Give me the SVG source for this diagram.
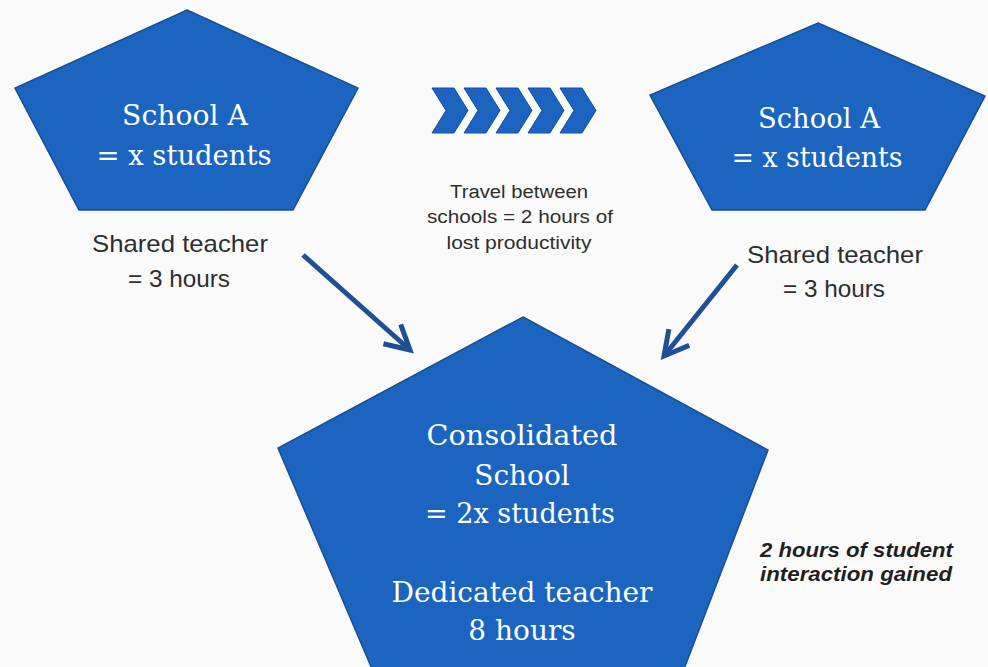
<svg xmlns="http://www.w3.org/2000/svg" width="988" height="667" viewBox="0 0 988 667">
<defs>
<style>
.pent{fill:#1b64bf;stroke:#1a4f8f;stroke-width:1.5;stroke-linejoin:miter}
.ser{font-family:"DejaVu Serif","Liberation Serif",serif;fill:#ffffff;text-anchor:middle}
.sans{font-family:"Liberation Sans",Arial,sans-serif;fill:#2e2e2e;text-anchor:middle}
.note{font-family:"Liberation Sans",Arial,sans-serif;fill:#1f1f1f;font-style:italic;font-weight:bold;font-size:20px}
.arr{stroke:#1f4f95;stroke-width:5;fill:none;marker-end:url(#ah)}
.chev{fill:#1b64bf;stroke:#1a4f8f;stroke-width:1}
</style>
<marker id="ah" markerUnits="userSpaceOnUse" markerWidth="40" markerHeight="40" refX="0" refY="0" orient="auto" overflow="visible">
<path d="M-24,-13 L0,0 L-24,13" fill="none" stroke="#1f4f95" stroke-width="5" stroke-linejoin="miter" stroke-linecap="butt"/>
</marker>
</defs>
<rect x="0" y="0" width="988" height="667" fill="#fafafa"/>

<g id="schoolA-left">
<polygon class="pent" points="187,10 358,88 293,210 79,210 15,88"/>
<text class="ser" x="185" y="125" font-size="27" textLength="126" lengthAdjust="spacingAndGlyphs">School A</text>
<text class="ser" x="184" y="165" font-size="27" textLength="175" lengthAdjust="spacingAndGlyphs">= x students</text>
</g>

<g id="schoolA-right">
<polygon class="pent" points="818,23 985,96 925,210 712,210 650,95"/>
<text class="ser" x="819" y="128" font-size="27" textLength="122" lengthAdjust="spacingAndGlyphs">School A</text>
<text class="ser" x="817" y="167" font-size="27" textLength="171" lengthAdjust="spacingAndGlyphs">= x students</text>
</g>

<g id="consolidated">
<polygon class="pent" points="523,317 768,450 684,669 372,669 278,448"/>
<text class="ser" x="522" y="445" font-size="28" textLength="191" lengthAdjust="spacingAndGlyphs">Consolidated</text>
<text class="ser" x="522" y="485" font-size="28">School</text>
<text class="ser" x="520" y="523" font-size="28" textLength="190" lengthAdjust="spacingAndGlyphs">= 2x students</text>
<text class="ser" x="522" y="602" font-size="28" textLength="261" lengthAdjust="spacingAndGlyphs">Dedicated teacher</text>
<text class="ser" x="522" y="640" font-size="28">8 hours</text>
</g>

<g id="travel">
<g id="chevrons">
<path class="chev" d="M432,88 L454,88 L468,110.5 L454,133 L432,133 L446,110.5 Z"/>
<path class="chev" d="M464,88 L486,88 L500,110.5 L486,133 L464,133 L478,110.5 Z"/>
<path class="chev" d="M496,88 L518,88 L532,110.5 L518,133 L496,133 L510,110.5 Z"/>
<path class="chev" d="M528,88 L550,88 L564,110.5 L550,133 L528,133 L542,110.5 Z"/>
<path class="chev" d="M560,88 L582,88 L596,110.5 L582,133 L560,133 L574,110.5 Z"/>
</g>
<text class="sans" x="519" y="198" font-size="18" textLength="138" lengthAdjust="spacingAndGlyphs">Travel between</text>
<text class="sans" x="520" y="223" font-size="18" textLength="186" lengthAdjust="spacingAndGlyphs">schools = 2 hours of</text>
<text class="sans" x="519" y="249" font-size="18" textLength="145" lengthAdjust="spacingAndGlyphs">lost productivity</text>
</g>

<g id="label-left">
<text class="sans" x="180" y="252" font-size="24" textLength="176" lengthAdjust="spacingAndGlyphs">Shared teacher</text>
<text class="sans" x="179" y="287" font-size="24" textLength="102" lengthAdjust="spacingAndGlyphs">= 3 hours</text>
</g>

<g id="label-right">
<text class="sans" x="835" y="263" font-size="24" textLength="176" lengthAdjust="spacingAndGlyphs">Shared teacher</text>
<text class="sans" x="834" y="297" font-size="24" textLength="102" lengthAdjust="spacingAndGlyphs">= 3 hours</text>
</g>

<g id="note">
<text class="note" x="760" y="557" textLength="193" lengthAdjust="spacingAndGlyphs">2 hours of student</text>
<text class="note" x="760" y="581" textLength="192" lengthAdjust="spacingAndGlyphs">interaction gained</text>
</g>

<g id="connectors">
<line class="arr" x1="303" y1="255" x2="410" y2="350"/>
<line class="arr" x1="737" y1="265" x2="664" y2="356"/>
</g>
</svg>
